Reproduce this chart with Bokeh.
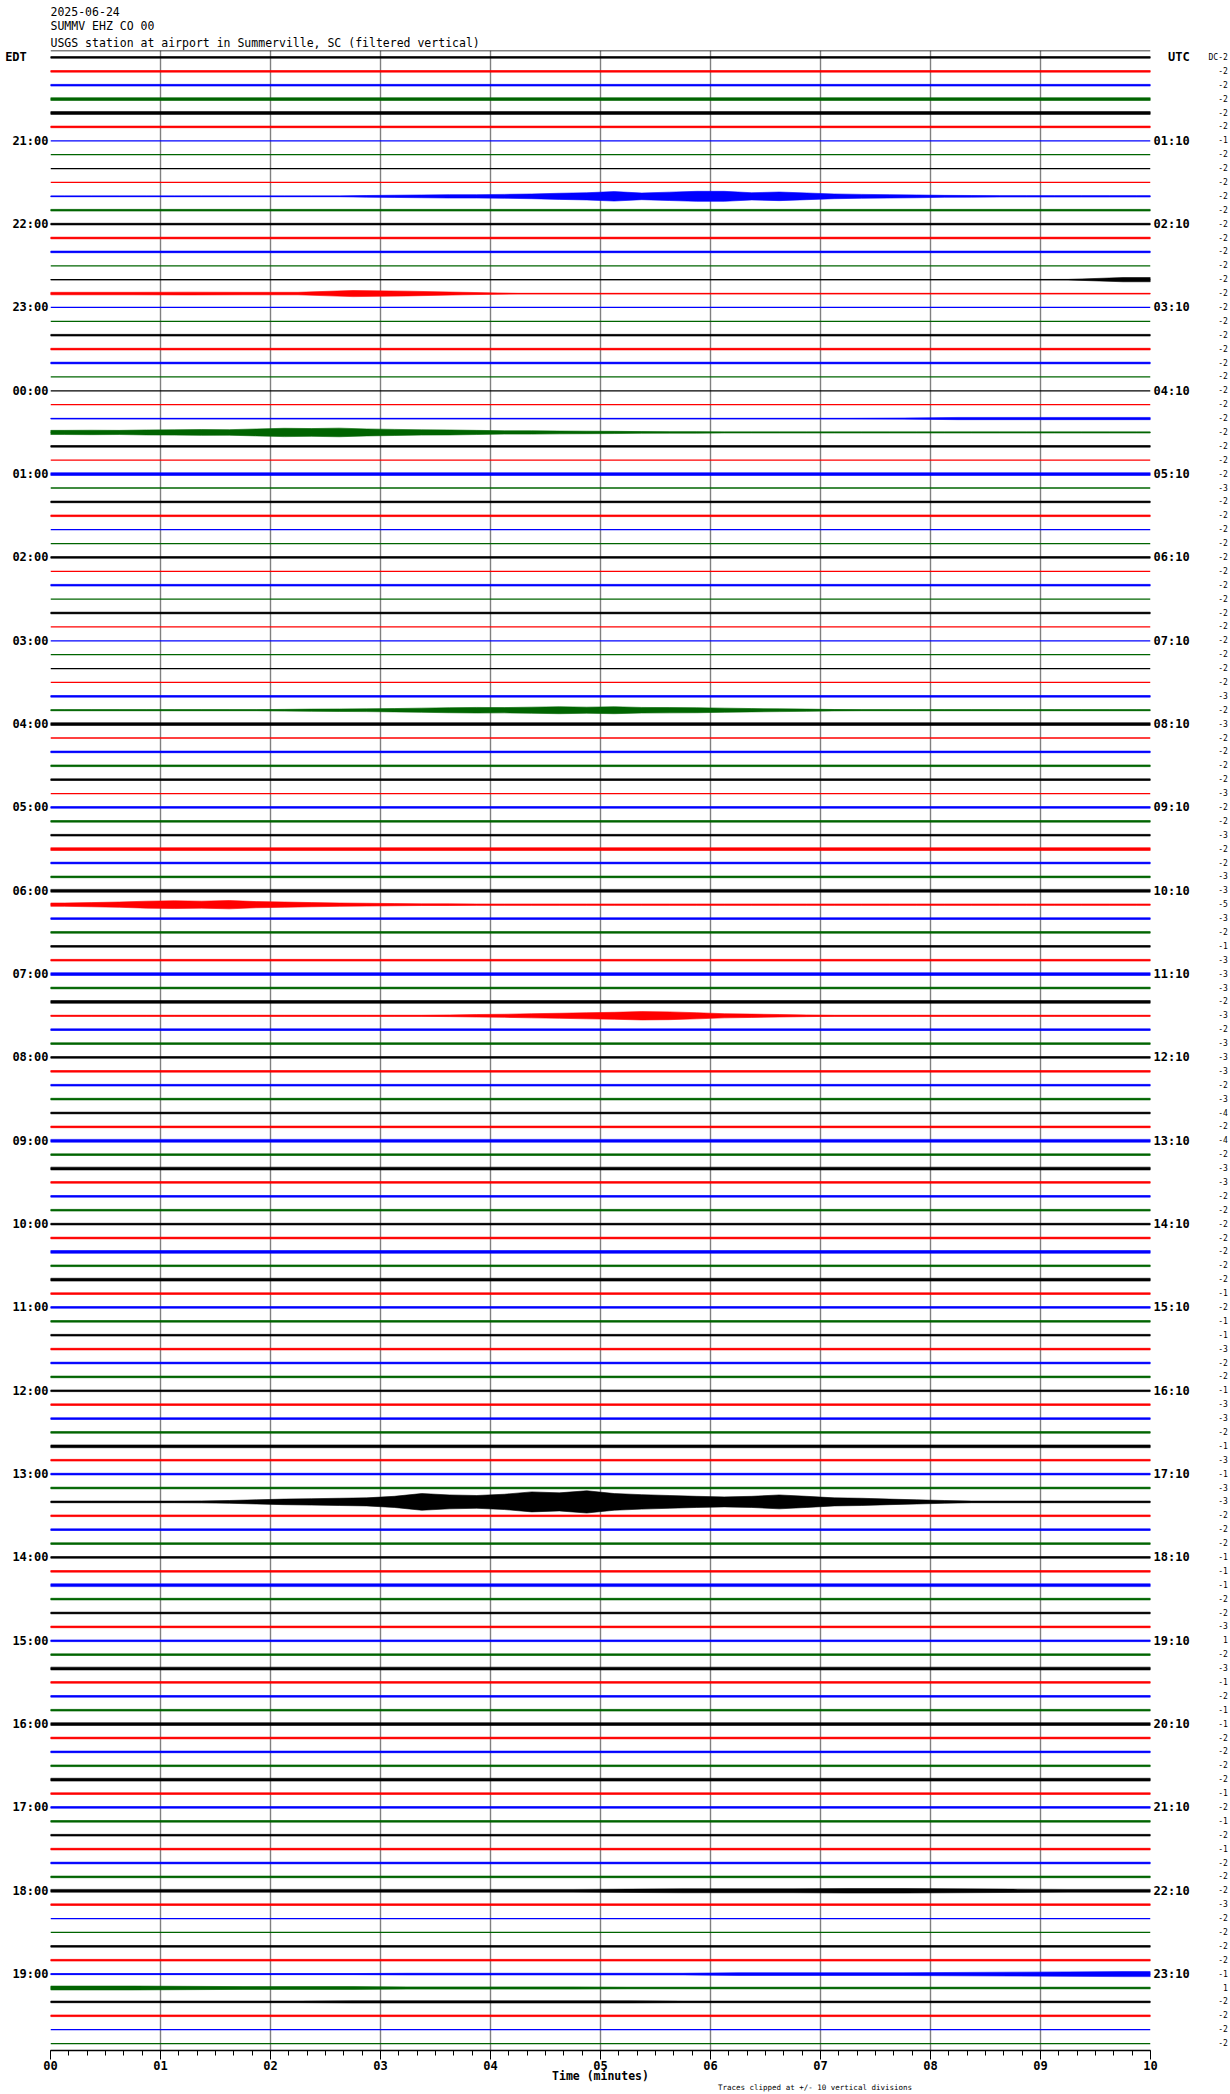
import numpy as np
from bokeh.plotting import figure
from bokeh.models import Range1d, FixedTicker, Span, LinearAxis, Title
from bokeh.embed import file_html
from bokeh.resources import INLINE

# ---------------- data ----------------
title_lines = ["2025-06-24", "SUMMV EHZ CO 00",
               "USGS station at airport in Summerville, SC (filtered vertical)"]
trace_colors = ["#000000", "#ff0000", "#0000ff", "#006400"]
n_traces = 144            # 24 h x 6 ten-minute lines, first line 20:00 EDT
minute_labels = ["00", "01", "02", "03", "04", "05", "06", "07", "08", "09", "10"]
edt_labels = ["21:00", "22:00", "23:00", "00:00", "01:00", "02:00", "03:00", "04:00",
              "05:00", "06:00", "07:00", "08:00", "09:00", "10:00", "11:00", "12:00",
              "13:00", "14:00", "15:00", "16:00", "17:00", "18:00", "19:00"]
utc_labels = ["01:10", "02:10", "03:10", "04:10", "05:10", "06:10", "07:10", "08:10",
              "09:10", "10:10", "11:10", "12:10", "13:10", "14:10", "15:10", "16:10",
              "17:10", "18:10", "19:10", "20:10", "21:10", "22:10", "23:10"]
hour_rows = [6, 12, 18, 24, 30, 36, 42, 48, 54, 60, 66, 72, 78, 84, 90, 96, 102,
             108, 114, 120, 126, 132, 138]
dc_offsets = [
    -2, -2, -2, -2, -2, -2, -1, -2, -2, -2, -2, -2, -2, -2, -2, -2, -2, -2, -2, -2, -2, -2, -2, -2,
    -2, -2, -2, -2, -2, -2, -2, -3, -2, -2, -2, -2, -2, -2, -2, -2, -2, -2, -2, -2, -2, -2, -3, -2,
    -3, -2, -2, -2, -2, -3, -2, -2, -3, -2, -2, -3, -3, -5, -3, -2, -1, -3, -3, -3, -2, -3, -2, -3,
    -3, -3, -2, -3, -4, -2, -4, -2, -3, -3, -2, -2, -2, -2, -2, -2, -2, -1, -2, -1, -1, -3, -2, -2,
    -1, -3, -3, -2, -1, -3, -1, -3, -3, -2, -2, -2, -1, -1, -1, -2, -2, -3, 1, -2, -3, -1, -2, -1,
    -1, -2, -2, -2, -2, -1, -2, -1, -2, -1, -2, -2, -2, -3, -2, -2, -2, -2, -1, 1, -2, -2, -2, -2]
note_text = "Traces clipped at +/- 10 vertical divisions"
# background noise level of each line (0 quiet .. 3 noisy)
noise_level = [
    1, 1, 1, 2, 2, 1,   0, 0, 0, 0, 0, 1,   1, 1, 1, 0, 0, 0,   0, 0, 1, 1, 1, 0,
    0, 0, 0, 0, 1, 0,   2, 0, 1, 1, 0, 0,   1, 0, 1, 0, 1, 0,   0, 0, 0, 0, 1, 0,
    2, 0, 1, 1, 1, 0,   1, 1, 1, 2, 1, 1,   2, 0, 1, 1, 1, 1,   2, 1, 2, 0, 1, 1,
    1, 1, 1, 1, 1, 1,   2, 1, 2, 1, 1, 1,   1, 1, 2, 1, 2, 1,   1, 1, 1, 1, 1, 1,
    1, 1, 1, 1, 2, 1,   1, 1, 0, 1, 1, 1,   1, 1, 2, 1, 1, 1,   1, 1, 2, 1, 1, 1,
    2, 1, 1, 1, 2, 1,   1, 1, 1, 1, 1, 1,   0, 1, 0, 0, 1, 1,   0, 0, 0, 1, 0, 0]
# amplitude envelopes (in line spacings) for lines with events,
# evenly spaced bins over the 10 minutes (20 or 40 bins)
events = {
    10: [0.03, 0.03, 0.03, 0.03, 0.03, 0.03, 0.03, 0.03, 0.03, 0.03,
         0.03, 0.06, 0.08, 0.10, 0.12, 0.12, 0.14, 0.17, 0.22, 0.26,
         0.34, 0.24, 0.30, 0.36, 0.36, 0.26, 0.31, 0.24, 0.17, 0.14,
         0.12, 0.10, 0.07, 0.06, 0.05, 0.05, 0.05, 0.05, 0.05, 0.05],
    16: [0.01, 0.01, 0.01, 0.01, 0.01, 0.01, 0.01, 0.01, 0.01, 0.01,
         0.01, 0.01, 0.01, 0.01, 0.01, 0.01, 0.01, 0.01, 0.02, 0.15],
    17: [0.09, 0.09, 0.10, 0.09, 0.09, 0.22, 0.17, 0.09, 0.02, 0.02,
         0.02, 0.02, 0.02, 0.02, 0.02, 0.02, 0.02, 0.02, 0.02, 0.02],
    26: [0.02, 0.02, 0.02, 0.02, 0.02, 0.02, 0.02, 0.02, 0.02, 0.02,
         0.02, 0.02, 0.02, 0.02, 0.02, 0.04, 0.08, 0.08, 0.08, 0.08],
    27: [0.15, 0.16, 0.15, 0.18, 0.19, 0.21, 0.20, 0.25, 0.30, 0.28,
         0.31, 0.25, 0.22, 0.19, 0.18, 0.15, 0.12, 0.12, 0.10, 0.09,
         0.08, 0.06, 0.05, 0.05, 0.04, 0.04, 0.04, 0.04, 0.04, 0.04,
         0.04, 0.04, 0.04, 0.04, 0.04, 0.04, 0.04, 0.04, 0.04, 0.04],
    47: [0.04, 0.04, 0.04, 0.04, 0.04, 0.04, 0.04, 0.04, 0.06, 0.08,
         0.09, 0.10, 0.12, 0.15, 0.18, 0.20, 0.19, 0.22, 0.25, 0.22,
         0.25, 0.20, 0.19, 0.18, 0.15, 0.12, 0.10, 0.08, 0.05, 0.04,
         0.04, 0.04, 0.04, 0.04, 0.04, 0.04, 0.04, 0.04, 0.04, 0.04],
    61: [0.12, 0.15, 0.19, 0.25, 0.28, 0.25, 0.30, 0.22, 0.19, 0.15,
         0.12, 0.10, 0.08, 0.06, 0.06, 0.05, 0.05, 0.05, 0.05, 0.05,
         0.05, 0.05, 0.05, 0.05, 0.05, 0.05, 0.05, 0.05, 0.05, 0.05,
         0.05, 0.05, 0.05, 0.05, 0.05, 0.05, 0.05, 0.05, 0.05, 0.05],
    69: [0.04, 0.04, 0.04, 0.04, 0.04, 0.04, 0.04, 0.04, 0.04, 0.04,
         0.04, 0.04, 0.04, 0.04, 0.06, 0.09, 0.11, 0.15, 0.18, 0.22,
         0.25, 0.30, 0.28, 0.22, 0.15, 0.12, 0.09, 0.06, 0.04, 0.04,
         0.04, 0.04, 0.04, 0.04, 0.04, 0.04, 0.04, 0.04, 0.04, 0.04],
    104: [0.06, 0.06, 0.06, 0.06, 0.06, 0.07, 0.10, 0.15, 0.20, 0.23,
          0.26, 0.29, 0.40, 0.60, 0.50, 0.46, 0.55, 0.72, 0.65, 0.80,
          0.60, 0.52, 0.46, 0.40, 0.36, 0.40, 0.50, 0.40, 0.29, 0.26,
          0.20, 0.15, 0.10, 0.06, 0.06, 0.06, 0.06, 0.06, 0.06, 0.06],
    132: [0.10, 0.10, 0.10, 0.10, 0.10, 0.10, 0.10, 0.10, 0.10, 0.10,
          0.12, 0.14, 0.14, 0.14, 0.16, 0.16, 0.14, 0.12, 0.10, 0.10],
    138: [0.04, 0.04, 0.04, 0.04, 0.04, 0.04, 0.06, 0.06, 0.06, 0.06,
          0.06, 0.06, 0.10, 0.10, 0.10, 0.10, 0.12, 0.14, 0.16, 0.18],
    139: [0.14, 0.14, 0.12, 0.10, 0.10, 0.10, 0.08, 0.08, 0.08, 0.08,
          0.06, 0.06, 0.06, 0.06, 0.06, 0.06, 0.06, 0.06, 0.06, 0.06],
    140: [0.06, 0.06, 0.06, 0.06, 0.06, 0.08, 0.08, 0.08, 0.08, 0.08,
          0.08, 0.06, 0.06, 0.06, 0.06, 0.06, 0.06, 0.06, 0.06, 0.06],
}
level_amp = [0.0, 0.06, 0.10, 0.14]

# ---------------- figure ----------------
W, H = 1230, 2094
mono = "DejaVu Sans Mono"
NB = "\u00a0"
p = figure(width=W, height=H, output_backend="svg", toolbar_location=None,
           x_range=Range1d(0, 10), y_range=Range1d(n_traces - 0.5, -0.5),
           min_border_left=50, min_border_right=80, min_border_top=50, min_border_bottom=44,
           y_axis_location=None)
p.outline_line_color = None
p.background_fill_color = "white"
p.border_fill_color = "white"
p.ygrid.visible = False

# titles (inner line first)
for t in reversed(title_lines):
    p.add_layout(Title(text=t, align="left", text_font=mono, text_font_size="11.5px",
                       text_font_style="normal", standoff=1, offset=0,
                       text_color="black"), "above")

p.xgrid.ticker = FixedTicker(ticks=list(range(11)))
p.xgrid.grid_line_color = "#808080"
p.xgrid.grid_line_width = 1.4

xa = p.xaxis[0]
xa.ticker = FixedTicker(ticks=list(range(11)),
                        minor_ticks=[i / 6 for i in range(61)])
xa.major_label_overrides = {i: minute_labels[i] for i in range(11)}
xa.axis_line_color = "black"
xa.axis_line_width = 1.5
xa.major_tick_out = 9
xa.major_tick_in = 0
xa.minor_tick_out = 5
xa.minor_tick_in = 0
xa.major_tick_line_color = "black"
xa.minor_tick_line_color = "black"
xa.major_label_standoff = 1
xa.major_label_text_font = mono
xa.major_label_text_font_style = "bold"
xa.major_label_text_font_size = "12px"
xa.major_label_text_color = "black"
xa.axis_label = "Time (minutes)"
xa.axis_label_text_font = mono
xa.axis_label_text_font_style = "bold"
xa.axis_label_text_font_size = "11.5px"
xa.axis_label_text_color = "black"
xa.axis_label_standoff = -4


def label_axis(ticks, labels, size, bold, standoff):
    ax = LinearAxis(ticker=FixedTicker(ticks=ticks),
                    major_label_overrides=dict(zip(ticks, labels)))
    ax.axis_line_color = None
    ax.major_tick_line_color = None
    ax.minor_tick_line_color = None
    ax.major_tick_in = 0
    ax.major_tick_out = 0
    ax.minor_tick_in = 0
    ax.minor_tick_out = 0
    ax.major_label_standoff = standoff
    ax.major_label_text_font = mono
    ax.major_label_text_font_size = size
    ax.major_label_text_font_style = "bold" if bold else "normal"
    ax.major_label_text_color = "black"
    return ax


# note under the time axis label
p.add_layout(label_axis([6.95], [note_text], "7.5px", False, -3), "below")
# left: EDT hour labels
p.add_layout(label_axis([0] + hour_rows, ["EDT" + NB * 3] + edt_labels, "12px", True, 2), "left")
# right: UTC hour labels
p.add_layout(label_axis([0] + hour_rows, [NB * 2 + "UTC"] + utc_labels, "12px", True, 3), "right")
# right: DC offsets
rows = list(range(n_traces))
dc_text = []
for r, v in enumerate(dc_offsets):
    s = str(v)
    pad = NB * (4 - len(s))
    dc_text.append(("DC" + s) if r == 0 else pad + s)
p.add_layout(label_axis(rows, dc_text, "8px", False, 16), "right")

p.add_layout(Span(location=-0.5, dimension="width", line_color="black", line_width=1.5))

colors = [trace_colors[r % 4] for r in rows]

# noise envelopes
pxs, pys, pcs = [], [], []
for r in rows:
    if r in events:
        env = events[r]
    else:
        a = level_amp[noise_level[r]]
        if a == 0:
            continue
        env = [a] * 20
    nb = len(env)
    bw = 10.0 / nb
    bx = [0.0] + [bw * (k + 0.5) for k in range(nb)] + [10.0]
    e = [env[0]] + list(env) + [env[-1]]
    top = [r - v for v in e]
    bot = [r + v for v in e]
    pxs.append(bx + bx[::-1])
    pys.append(top + bot[::-1])
    pcs.append(trace_colors[r % 4])
p.patches(pxs, pys, fill_color=pcs, line_color=pcs, line_width=0.6)

# baselines
p.multi_line(xs=[[0, 10] for r in rows], ys=[[r, r] for r in rows],
             line_color=colors, line_width=1.3)

open("out.html", "w").write(file_html(p, INLINE))
